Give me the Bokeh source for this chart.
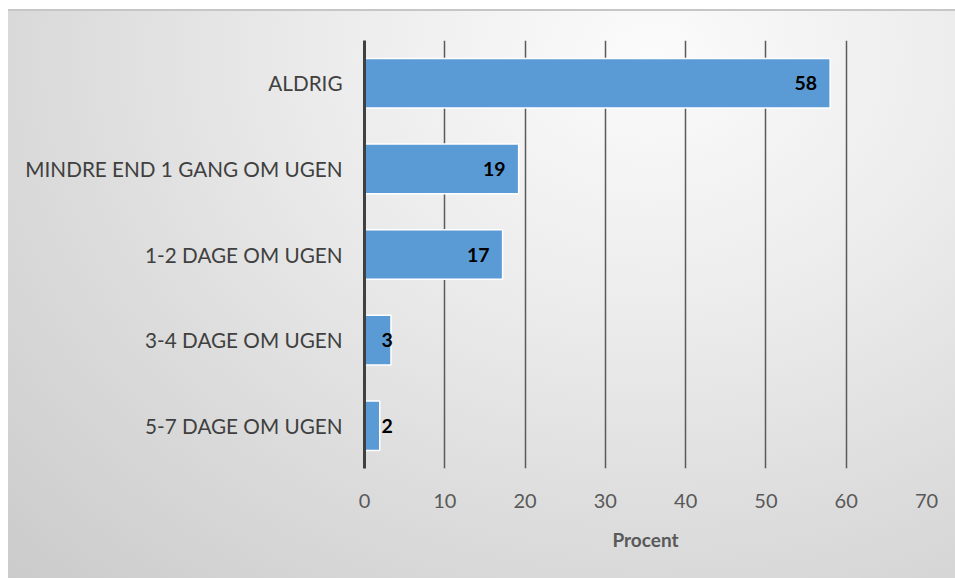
from bokeh.plotting import figure
from bokeh.models import ColumnDataSource, Range1d, FactorRange, FixedTicker
from bokeh.core.properties import value
from bokeh.embed import file_html
from bokeh.resources import INLINE

categories = ["ALDRIG", "MINDRE END 1 GANG OM UGEN", "1-2 DAGE OM UGEN",
              "3-4 DAGE OM UGEN", "5-7 DAGE OM UGEN"]
values = [58.0, 19.2, 17.2, 3.3, 1.9]
x_ticks = [0, 10, 20, 30, 40, 50, 60, 70]
x_label = "Procent"

FONT = "Lato"

p = figure(width=947, height=569, output_backend="svg", toolbar_location=None,
           y_range=FactorRange(factors=list(reversed(categories))),
           x_range=Range1d(0, 70),
           min_border_left=356, min_border_right=29,
           min_border_top=31, min_border_bottom=110)
p.border_fill_color = None
p.background_fill_color = None
p.outline_line_color = None
p.styles = {"background-image": "radial-gradient(ellipse at 68% 8%, #fbfbfb 0%, #ececec 35%, #dcdcdc 65%, #cbcbcb 100%)",
            "box-shadow": "inset 0 2px 0 #c6c6c6",
            "margin-left": "8px", "margin-top": "9px"}

big = [(c, v, str(round(v))) for c, v in zip(categories, values) if v >= 5]
small = [(c, v, str(round(v))) for c, v in zip(categories, values) if v < 5]

src = ColumnDataSource(dict(cat=categories, val=values))
p.hbar(y="cat", right="val", left=0, height=0.58, source=src,
       fill_color="#5B9BD5", line_color="white", line_width=1.5)

bsrc = ColumnDataSource(dict(cat=[b[0] for b in big], val=[b[1] for b in big], lab=[b[2] for b in big]))
p.text(x="val", y="cat", text="lab", source=bsrc, text_align="right", text_baseline="middle",
       x_offset=-13, text_font=value(FONT), text_font_style="bold", text_font_size="19.5px",
       text_color="black")
ssrc = ColumnDataSource(dict(cat=[s[0] for s in small], val=[0] * len(small), lab=[s[2] for s in small]))
p.text(x="val", y="cat", text="lab", source=ssrc, text_align="left", text_baseline="middle",
       x_offset=17, text_font=value(FONT), text_font_style="bold", text_font_size="19.5px",
       text_color="black")

# axes
p.xaxis.ticker = FixedTicker(ticks=x_ticks)
p.xaxis.axis_line_color = None
p.xaxis.major_tick_line_color = None
p.xaxis.minor_tick_line_color = None
p.xaxis.major_label_text_font = FONT
p.xaxis.major_label_text_font_size = "20px"
p.xaxis.major_label_text_color = "#595959"
p.xaxis.major_label_standoff = 19
p.xaxis.axis_label = x_label
p.xaxis.axis_label_text_font = FONT
p.xaxis.axis_label_text_font_size = "19px"
p.xaxis.axis_label_text_font_style = "bold"
p.xaxis.axis_label_text_color = "#595959"
p.xaxis.axis_label_standoff = 17

p.yaxis.axis_line_color = "#404040"
p.yaxis.axis_line_width = 3
p.yaxis.major_tick_line_color = None
p.yaxis.minor_tick_line_color = None
p.yaxis.major_label_text_font = FONT
p.yaxis.major_label_text_font_size = "20.7px"
p.yaxis.major_label_text_color = "#404040"
p.yaxis.major_label_standoff = 16

p.ygrid.grid_line_color = None
p.xgrid.ticker = FixedTicker(ticks=x_ticks[1:])
p.xgrid.grid_line_color = "#5a5a5a"
p.xgrid.grid_line_width = 1.5

open("out.html", "w").write(file_html(p, INLINE))
